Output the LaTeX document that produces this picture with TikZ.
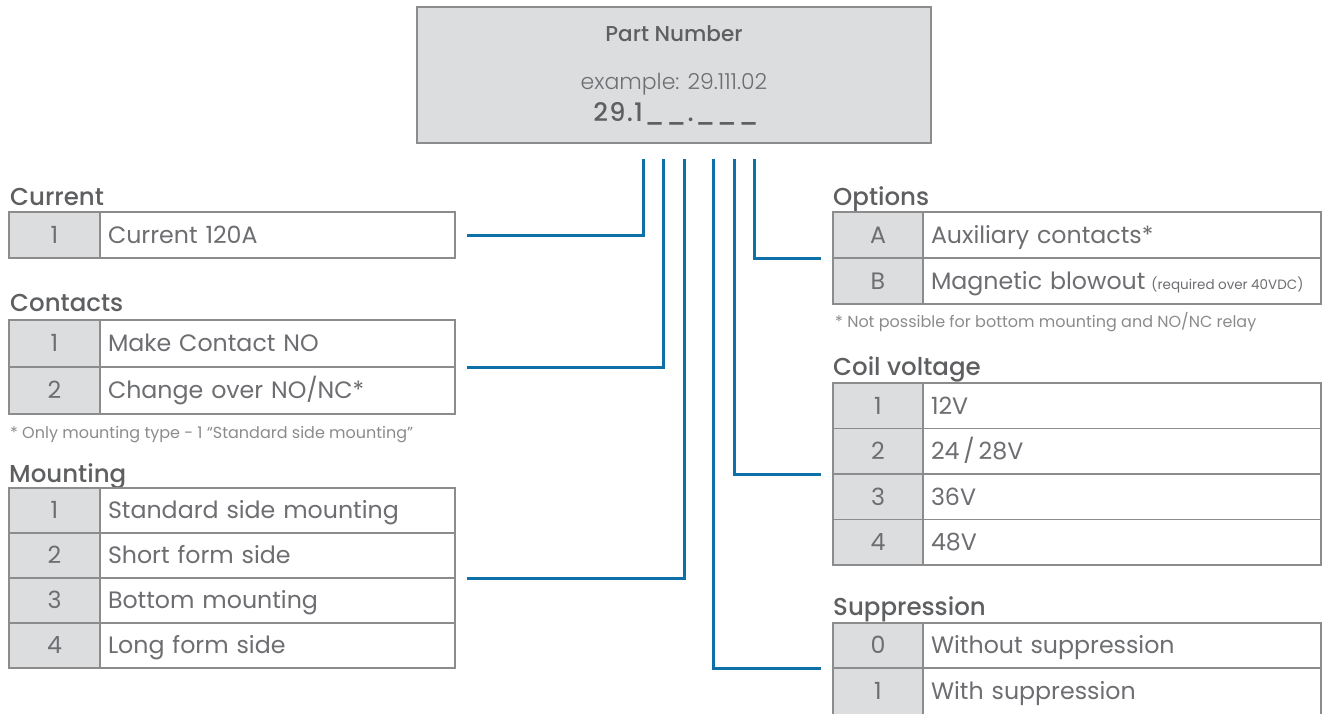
\documentclass[tikz,border=0pt]{standalone}
\usepackage{fontspec}
\setmainfont{Poppins}
\newfontfamily\medfont{Poppins Medium}
\newfontfamily\lightfont{Poppins Light}
\usetikzlibrary{calc}
\definecolor{txtgray}{HTML}{6D6E71}
\definecolor{ttlgray}{HTML}{5E5F61}
\definecolor{notegray}{HTML}{8A8B8D}
\definecolor{cellgray}{HTML}{DCDDDF}
\definecolor{bordgray}{HTML}{8C8C8C}
\definecolor{conblue}{HTML}{0E70A9}
\begin{document}
\begin{tikzpicture}[x=1pt,y=-1pt,
  cell/.style={draw=bordgray,line width=1.5pt,inner sep=0pt,outer sep=0pt,anchor=north west,
    text height=16.5pt,text depth=0pt,text=txtgray,font=\fontsize{23.7}{27}\selectfont},
  numL/.style={cell,fill=cellgray,minimum width=91pt,minimum height=#1},
  txtL/.style={cell,fill=white,minimum width=355pt,text width=339pt,inner xsep=8pt,align=left,minimum height=#1},
  numR/.style={cell,fill=cellgray,minimum width=90pt,minimum height=#1},
  txtR/.style={cell,fill=white,minimum width=398pt,text width=382pt,inner xsep=8pt,align=left,minimum height=#1},
  ttl/.style={anchor=base west,inner sep=0pt,text=ttlgray,font=\medfont\fontsize{24.5}{28}\selectfont},
  fnote/.style={anchor=base west,inner sep=0pt,text=notegray,font=\fontsize{16}{18}\selectfont},
  conn/.style={draw=conblue,line width=3pt}]
\useasboundingbox (0,0) rectangle (1330,713);
% part number box
\node[draw=bordgray,line width=1.5pt,fill=cellgray,minimum width=514pt,minimum height=136pt,
  anchor=north west,inner sep=0pt,outer sep=0pt] (pn) at (417,7) {};
\node[anchor=base,inner sep=0pt,text=ttlgray,font=\medfont\fontsize{21.5}{24}\selectfont] (pnt) at (674,41) {Part Number};
\node[anchor=base,inner sep=0pt,text=txtgray,font=\lightfont\fontsize{22}{24}\selectfont] (pne) at (674,89) {example: 29.111.02};
\node[anchor=base,inner sep=0pt,text=ttlgray,font=\medfont\fontsize{25.5}{28}\selectfont\addfontfeatures{LetterSpace=5}] (pnc) at (676,121) {29.1\_\_.\_\_\_};
% Current
\node[ttl] (tcur) at (10,205) {Current};
\node[numL=46pt] (cur1n) at (9,212) {1};
\node[txtL=46pt] (cur1t) at (100,212) {Current 120A};
% Contacts
\node[ttl] (tcon) at (10,311) {Contacts};
\node[numL=47pt] (con1n) at (9,320) {1};
\node[txtL=47pt] (con1t) at (100,320) {Make Contact NO};
\node[numL=47pt] (con2n) at (9,367) {2};
\node[txtL=47pt] (con2t) at (100,367) {Change over NO/NC*};
\node[fnote] (fn1) at (10,438) {* Only mounting type - 1 “Standard side mounting”};
% Mounting
\node[ttl] (tmnt) at (9,482) {Mounting};
\node[numL=45pt] (mnt1n) at (9,488) {1};
\node[txtL=45pt] (mnt1t) at (100,488) {Standard side mounting};
\node[numL=45pt] (mnt2n) at (9,533) {2};
\node[txtL=45pt] (mnt2t) at (100,533) {Short form side};
\node[numL=45pt] (mnt3n) at (9,578) {3};
\node[txtL=45pt] (mnt3t) at (100,578) {Bottom mounting};
\node[numL=45pt] (mnt4n) at (9,623) {4};
\node[txtL=45pt] (mnt4t) at (100,623) {Long form side};
% Options
\node[ttl] (topt) at (833,205) {Options};
\node[numR=46pt] (opt1n) at (833,212) {A};
\node[txtR=46pt] (opt1t) at (923,212) {Auxiliary contacts*};
\node[numR=46pt] (opt2n) at (833,258) {B};
\node[txtR=46pt] (opt2t) at (923,258) {Magnetic blowout\hspace{6pt}{\fontsize{13.5}{14}\selectfont(required\hspace{3.5pt}over\hspace{3.5pt}40VDC)}};
\node[fnote] (fn2) at (835,327) {* Not possible for bottom mounting and NO/NC relay};
% Coil voltage
\node[ttl] (tcoil) at (833,375) {Coil voltage};
\node[numR=45.5pt] (coil1n) at (833,383) {1};
\node[txtR=45.5pt] (coil1t) at (923,383) {12V};
\node[numR=45.5pt] (coil2n) at (833,428.5) {2};
\node[txtR=45.5pt] (coil2t) at (923,428.5) {24\,/\,28V};
\node[numR=45.5pt] (coil3n) at (833,474) {3};
\node[txtR=45.5pt] (coil3t) at (923,474) {36V};
\node[numR=45.5pt] (coil4n) at (833,519.5) {4};
\node[txtR=45.5pt] (coil4t) at (923,519.5) {48V};
% Suppression
\node[ttl] (tsup) at (833,615) {Suppression};
\node[numR=45pt] (sup1n) at (833,623) {0};
\node[txtR=45pt] (sup1t) at (923,623) {Without suppression};
\node[numR=47pt] (sup2n) at (833,668) {1};
\node[txtR=47pt] (sup2t) at (923,668) {With suppression};
% connectors
\coordinate (s1) at (643,159);
\coordinate (s2) at (663,159);
\coordinate (s3) at (684,159);
\coordinate (s4) at (713,159);
\coordinate (s5) at (734,159);
\coordinate (s6) at (754,159);
\draw[conn] (s1) |- ([xshift=12pt]cur1t.east);
\draw[conn] (s2) |- ([xshift=12pt]con1t.south east);
\draw[conn] (s3) |- ([xshift=12pt]mnt2t.south east);
\draw[conn] (s4) |- ([xshift=-12pt]sup1n.south west);
\draw[conn] (s5) |- ([xshift=-12pt]coil2n.south west);
\draw[conn] (s6) |- ([xshift=-12pt]opt1n.south west);
\end{tikzpicture}
\end{document}
